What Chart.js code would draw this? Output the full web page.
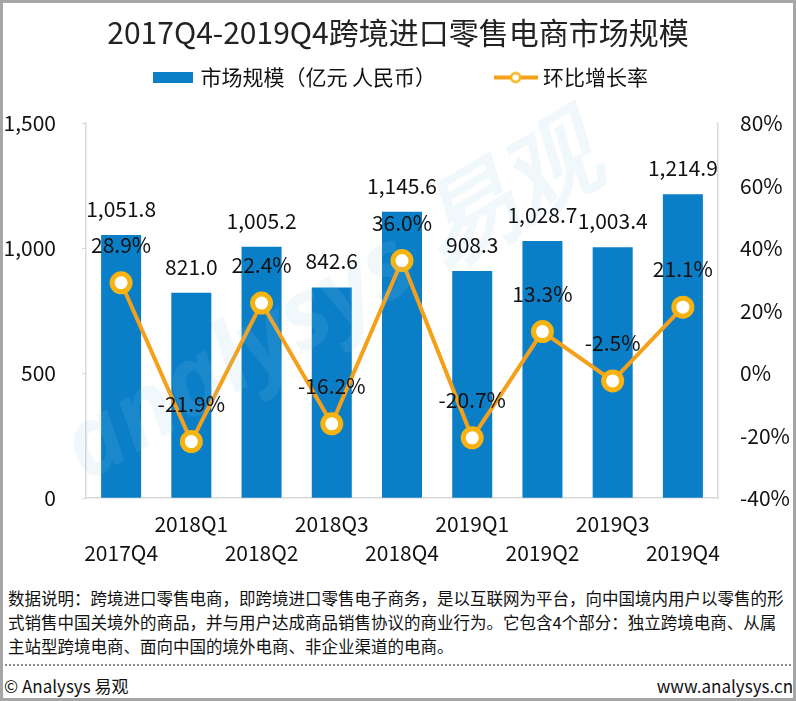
<!DOCTYPE html>
<html>
<head>
<meta charset="utf-8">
<script src="https://cdn.jsdelivr.net/npm/chart.js@4.4.1/dist/chart.umd.min.js"></script>
<style>
  body { margin: 0; background: #fff; }
  #frame {
    width: 796px; height: 701px; box-sizing: border-box;
    border: 3px solid #a6a6a6; position: relative; overflow: hidden;
    font-family: "Noto Sans CJK SC", "Noto Sans", sans-serif; color: #111;
  }
  #box { width: 790px; height: 576px; position: relative; }
  .note {
    margin: 7px 0 0 5px; font-size: 16.5px; line-height: 24px;
    white-space: nowrap; overflow: hidden; width: 785px;
  }
  .dots { margin: 6px 2px 0 2px; border-top: 2px dotted #8c8c8c; }
  .foot { display: flex; justify-content: space-between; font-size: 17px; line-height: 22px; padding: 9px 0 0 1px; }
</style>
</head>
<body>
<div id="frame">
  <div id="box"><canvas id="myChart"></canvas></div>
  <div class="note">数据说明：跨境进口零售电商，即跨境进口零售电子商务，是以互联网为平台，向中国境内用户以零售的形<br>式销售中国关境外的商品，并与用户达成商品销售协议的商业行为。它包含4个部分：独立跨境电商、从属<br>主站型跨境电商、面向中国的境外电商、非企业渠道的电商。</div>
  <div class="dots"></div>
  <div class="foot"><span>© Analysys 易观</span><span>www.analysys.cn</span></div>
</div>
<script>
const quarters = ['2017Q4', '2018Q1', '2018Q2', '2018Q3', '2018Q4', '2019Q1', '2019Q2', '2019Q3', '2019Q4'];
const marketSize = [1051.8, 821.0, 1005.2, 842.6, 1145.6, 908.3, 1028.7, 1003.4, 1214.9];
const qoqGrowth = [28.9, -21.9, 22.4, -16.2, 36.0, -20.7, 13.3, -2.5, 21.1];
const sizeTicks = [0, 500, 1000, 1500];
const growthTicks = [-40, -20, 0, 20, 40, 60, 80];

const BLUE = '#0a7fc7';
const ORANGE = '#f5a01a';
const GOLD = '#f7b312';
const FONT = '"Noto Sans CJK SC", "Noto Sans", sans-serif';

// legend icons
const barIcon = document.createElement('canvas');
barIcon.width = 40; barIcon.height = 11;
let c = barIcon.getContext('2d');
c.fillStyle = BLUE; c.fillRect(0, 0, 40, 11);

const lineIcon = document.createElement('canvas');
lineIcon.width = 44; lineIcon.height = 14;
c = lineIcon.getContext('2d');
c.strokeStyle = ORANGE; c.lineWidth = 4;
c.beginPath(); c.moveTo(0, 7); c.lineTo(44, 7); c.stroke();
c.beginPath(); c.arc(22, 7, 4.5, 0, Math.PI * 2);
c.fillStyle = '#fff'; c.fill();
c.strokeStyle = GOLD; c.lineWidth = 2.5; c.stroke();

function fmtSize(v) {
    return v.toLocaleString('en-US', {minimumFractionDigits: 1, maximumFractionDigits: 1});
}

const valueLabels = {
    id: 'valueLabels',
    afterDatasetsDraw(chart) {
        const ctx = chart.ctx;
        ctx.save();
        // faint watermark
        ctx.translate(330, 300);
        ctx.rotate(-0.54);
        ctx.font = 'italic bold 96px "Open Sans"';
        ctx.fillStyle = 'rgba(150, 200, 235, 0.13)';
        ctx.textAlign = 'center';
        ctx.textBaseline = 'middle';
        ctx.fillText('analysys 易观', 0, 0);
        ctx.restore();

        ctx.save();
        ctx.font = '21px ' + FONT;
        ctx.fillStyle = '#111';
        ctx.textAlign = 'center';
        ctx.textBaseline = 'middle';
        chart.getDatasetMeta(0).data.forEach(function (bar, i) {
            ctx.fillText(fmtSize(marketSize[i]), bar.x, bar.y - 26);
        });
        chart.getDatasetMeta(1).data.forEach(function (pt, i) {
            ctx.fillText(qoqGrowth[i].toFixed(1) + '%', pt.x, pt.y - 38);
        });
        ctx.restore();
    }
};

const ctx = document.getElementById('myChart');
new Chart(ctx, {
    type: 'bar',
    data: {
        labels: quarters,
        datasets: [{
            type: 'bar',
            label: '市场规模（亿元 人民币）',
            data: marketSize,
            backgroundColor: BLUE,
            barPercentage: 0.57,
            categoryPercentage: 1,
            yAxisID: 'y',
            order: 2
        }, {
            type: 'line',
            label: '环比增长率',
            data: qoqGrowth,
            borderColor: ORANGE,
            borderWidth: 4,
            pointRadius: 9,
            pointBorderWidth: 5,
            pointBorderColor: GOLD,
            pointBackgroundColor: '#fff',
            tension: 0,
            yAxisID: 'y1',
            order: 1
        }]
    },
    options: {
        responsive: true,
        maintainAspectRatio: false,
        animation: false,
        layout: { padding: { left: 0, right: 0, top: 0, bottom: 0 } },
        plugins: {
            title: {
                display: true,
                text: '2017Q4-2019Q4跨境进口零售电商市场规模',
                color: '#222',
                font: { family: FONT, size: 30, weight: 'normal' },
                padding: { top: 12, bottom: 6 }
            },
            subtitle: {
                display: true,
                text: '',
                weight: 500,
                font: { size: 1, lineHeight: 1 },
                padding: { top: 24, bottom: 0 }
            },
            legend: {
                display: true,
                fullSize: false,
                labels: {
                    usePointStyle: true,
                    pointStyleWidth: 34,
                    padding: 10,
                    color: '#111',
                    font: { family: FONT, size: 21 },
                    generateLabels: function () {
                        return [
                            { text: '市场规模（亿元 人民币）\u3000\u3000\u3000', pointStyle: barIcon, fillStyle: BLUE, strokeStyle: BLUE, lineWidth: 0, hidden: false, datasetIndex: 0, fontColor: '#111' },
                            { text: '环比增长率', pointStyle: lineIcon, fillStyle: ORANGE, strokeStyle: ORANGE, lineWidth: 0, hidden: false, datasetIndex: 1, fontColor: '#111' }
                        ];
                    }
                }
            },
            tooltip: { enabled: false }
        },
        scales: {
            x: {
                grid: { display: false, drawTicks: false },
                border: { color: '#d9d9d9', width: 1.5 },
                ticks: {
                    autoSkip: false,
                    maxRotation: 0,
                    padding: 11,
                    color: '#111',
                    font: { family: FONT, size: 21, lineHeight: 1.4 },
                    callback: function (v, i) {
                        const q = this.getLabelForValue(v);
                        return i % 2 ? [q, ''] : ['', q];
                    }
                }
            },
            y: {
                position: 'left',
                min: 0,
                max: 1500,
                afterBuildTicks: function (s) { s.ticks = sizeTicks.map(v => ({ value: v })); },
                afterFit: function (s) { s.width = 83; },
                grid: { drawOnChartArea: false, tickLength: 4, color: '#d9d9d9' },
                border: { color: '#d9d9d9', width: 1.5 },
                ticks: {
                    padding: 26,
                    color: '#111',
                    font: { family: FONT, size: 21 },
                    callback: v => v.toLocaleString('en-US')
                }
            },
            y1: {
                position: 'right',
                min: -40,
                max: 80,
                afterBuildTicks: function (s) { s.ticks = growthTicks.map(v => ({ value: v })); },
                afterFit: function (s) { s.width = 75; },
                grid: { drawOnChartArea: false, drawTicks: false },
                border: { color: '#d9d9d9', width: 1.5 },
                ticks: {
                    padding: 22,
                    color: '#111',
                    font: { family: FONT, size: 21 },
                    callback: v => v + '%'
                }
            }
        }
    },
    plugins: [valueLabels]
});
</script>
</body>
</html>
